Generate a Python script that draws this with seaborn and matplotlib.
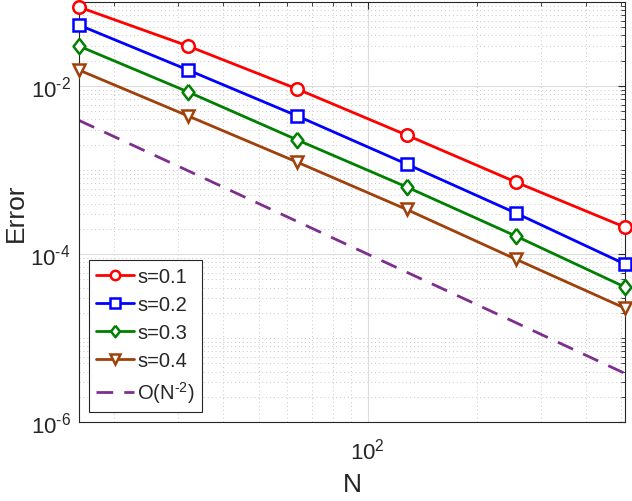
import numpy as np
import pandas as pd
import matplotlib
matplotlib.use("Agg")
import matplotlib.pyplot as plt
import seaborn as sns
from matplotlib.ticker import FixedLocator, NullFormatter

N = [16, 32, 64, 128, 256, 512]
err_s01 = [0.0871, 0.0299, 0.0092, 0.00261, 7.2e-4, 2.09e-4]
err_s02 = [0.0532, 0.0155, 0.0044, 1.18e-3, 3.08e-4, 7.6e-5]
err_s03 = [0.0299, 0.0085, 2.28e-3, 6.3e-4, 1.64e-4, 4.05e-5]
err_s04 = [0.0155, 0.0044, 1.24e-3, 3.4e-4, 8.7e-5, 2.27e-5]
ref_n2 = [3.9e-3, 9.8e-4, 2.44e-4, 6.1e-5, 1.53e-5, 3.8e-6]

labels = ['s=0.1', 's=0.2', 's=0.3', 's=0.4']
colors = ['#ff0000', '#0000ff', '#008000', '#a0400a']
# matlab-ish diamond, a bit wider than matplotlib's 'd'
diamond = [(0, 1), (0.78, 0), (0, -1), (-0.78, 0), (0, 1)]
markers = ['o', 's', diamond, 'v']
msizes = [9, 9, 11, 9]

sns.set_style('white')
plt.rcParams['font.family'] = ['Liberation Sans', 'DejaVu Sans']
plt.rcParams['mathtext.fontset'] = 'custom'
plt.rcParams['mathtext.rm'] = 'Liberation Sans'
plt.rcParams['mathtext.it'] = 'Liberation Sans'
plt.rcParams['mathtext.default'] = 'regular'

fig = plt.figure(figsize=(6.32, 5.02), dpi=100)
ax = fig.add_axes([0.125, 0.157, 0.864, 0.837])

for errs, lab, c, m, ms in zip([err_s01, err_s02, err_s03, err_s04], labels, colors, markers, msizes):
    df = pd.DataFrame({'N': N, 'err': errs})
    sns.lineplot(data=df, x='N', y='err', ax=ax, color=c, marker=m, lw=2,
                 markersize=ms, markerfacecolor='white', markeredgecolor=c,
                 markeredgewidth=1.8, label=lab, clip_on=False, zorder=5)
df = pd.DataFrame({'N': N, 'err': ref_n2})
sns.lineplot(data=df, x='N', y='err', ax=ax, color='#7e2f8e', lw=2,
             label='O(N$^{\\text{-}2}$)')
ax.lines[-1].set_dashes([6, 4])

ax.set_xscale('log')
ax.set_yscale('log')
ax.set_xlim(16, 512)
ax.set_ylim(1e-6, 1e-1)

ax.xaxis.set_major_locator(FixedLocator([100]))
ax.set_xticklabels(['10$^{2}$'])
ax.xaxis.set_minor_locator(FixedLocator([20, 30, 40, 50, 60, 70, 80, 90, 200, 300, 400, 500]))
ax.xaxis.set_minor_formatter(NullFormatter())
ax.yaxis.set_major_locator(FixedLocator([1e-6, 1e-4, 1e-2]))
ax.set_yticklabels(['10$^{\\text{-}6}$', '10$^{\\text{-}4}$', '10$^{\\text{-}2}$'])
yminor = [k * 10.0 ** e for e in range(-6, -1) for k in range(1, 10)
          if not (k == 1 and e % 2 == 0)]
ax.yaxis.set_minor_locator(FixedLocator(yminor))
ax.yaxis.set_minor_formatter(NullFormatter())

ax.tick_params(which='both', direction='in', top=True, right=True,
               colors='#262626', labelsize=16)
ax.tick_params(which='major', length=5, width=0.8)
ax.tick_params(which='minor', length=3, width=0.6)
ax.tick_params(axis='x', which='major', pad=11)
ax.tick_params(axis='y', which='major', pad=6)
ax.grid(which='major', color='#dcdcdc', lw=0.8, ls='-')
ax.grid(which='minor', color='#c8c8c8', lw=0.7, ls=(0, (1, 3)))
for sp in ax.spines.values():
    sp.set_color('#262626')
    sp.set_linewidth(0.8)

ax.set_xlabel('N', fontsize=19, color='#262626', labelpad=6)
ax.set_ylabel('Error', fontsize=19, color='#262626', labelpad=2)

leg = ax.legend(loc='lower left', fontsize=14.5, frameon=True, fancybox=False,
                framealpha=1, edgecolor='#262626', handlelength=1.9,
                handletextpad=0.15, borderpad=0.35, labelspacing=0.45,
                borderaxespad=0.5, markerscale=0.75)
leg.get_frame().set_linewidth(0.8)
leg.set_zorder(10)

fig.savefig('out.png', dpi=100)
